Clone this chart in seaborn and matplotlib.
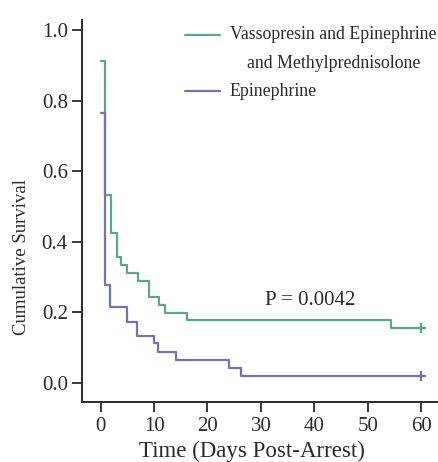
import numpy as np
import pandas as pd
import seaborn as sns
import matplotlib
matplotlib.use("Agg")
import matplotlib.pyplot as plt

# Kaplan-Meier steps (days, cumulative survival)
vem_days = [0, 0.9, 2.0, 3.0, 3.9, 4.9, 7.0, 9.1, 11.0, 12.0, 16.1, 54.3, 60]
vem_surv = [0.911, 0.533, 0.424, 0.357, 0.334, 0.312, 0.290, 0.244, 0.221, 0.199, 0.178, 0.155, 0.155]
epi_days = [0, 0.9, 1.8, 4.9, 6.8, 9.9, 10.8, 14.1, 24.0, 26.3, 60]
epi_surv = [0.766, 0.279, 0.215, 0.172, 0.134, 0.112, 0.087, 0.065, 0.043, 0.021, 0.021]
groups = ["Vassopresin and Epinephrine\nand Methylprednisolone", "Epinephrine"]
colors = ["#5aa882", "#7073b8"]
x_ticks = [0, 10, 20, 30, 40, 50, 60]
y_ticks = [0.0, 0.2, 0.4, 0.6, 0.8, 1.0]
p_text = "P = 0.0042"

df = pd.concat([
    pd.DataFrame({"day": vem_days, "surv": vem_surv, "group": groups[0]}),
    pd.DataFrame({"day": epi_days, "surv": epi_surv, "group": groups[1]}),
])
censor = df.groupby("group", sort=False).tail(1)

sns.set_style("ticks")
plt.rcParams["font.family"] = ["Liberation Serif", "DejaVu Serif"]

fig = plt.figure(figsize=(4.39, 4.62), dpi=100)
ax = fig.add_axes([0.186, 0.1305, 0.814, 0.826])

sns.lineplot(data=df, x="day", y="surv", hue="group", palette=colors,
             drawstyle="steps-post", estimator=None, sort=False,
             linewidth=1.6, legend=False, ax=ax)
for (g, row), c in zip(censor.iterrows(), colors):
    ax.plot(row["day"], row["surv"], marker="+", color=c, markersize=7, mew=1.6)

ax.set_xlim(-3.56, 63.35)
ax.set_ylim(-0.053, 1.028)
ax.set_xticks(x_ticks)
ax.set_yticks(y_ticks)
ax.set_yticklabels([f"{v:.1f}" for v in y_ticks])
sns.despine(ax=ax)
for s in ["left", "bottom"]:
    ax.spines[s].set_linewidth(1.4)
    ax.spines[s].set_color("#2a2a2a")
ax.tick_params(direction="out", length=7, width=1.3, color="#2a2a2a",
               labelsize=15, labelcolor="#2a2a2a")
ax.tick_params(axis="y", pad=3)
ax.tick_params(axis="x", pad=4)

ax.set_xlabel("Time (Days Post-Arrest)", fontsize=16.5, color="#2a2a2a")
ax.set_ylabel("Cumulative Survival", fontsize=13.5, color="#2a2a2a")
ax.xaxis.set_label_coords(0.476, -0.103)
ax.yaxis.set_label_coords(-0.145, 0.379)

ax.text(39.2, 0.235, p_text, ha="center", va="center", fontsize=15, color="#2a2a2a")

# legend drawn by hand to mimic the original layout
W, H = 439, 462
for lab, c, ypix in zip(groups, colors, [35, 91]):
    fig.add_artist(plt.Line2D([185 / W, 220 / W], [1 - ypix / H, 1 - ypix / H],
                              color=c, linewidth=1.6))
fig.text(333.5 / W, 1 - 49 / H, groups[0], ha="center", va="center",
         multialignment="center", fontsize=12.8, color="#2a2a2a",
         linespacing=1.95, transform=fig.transFigure)
fig.text(229 / W, 1 - 91 / H, groups[1], ha="left", va="center",
         fontsize=12.8, color="#2a2a2a")

fig.savefig("out.png", dpi=100)
